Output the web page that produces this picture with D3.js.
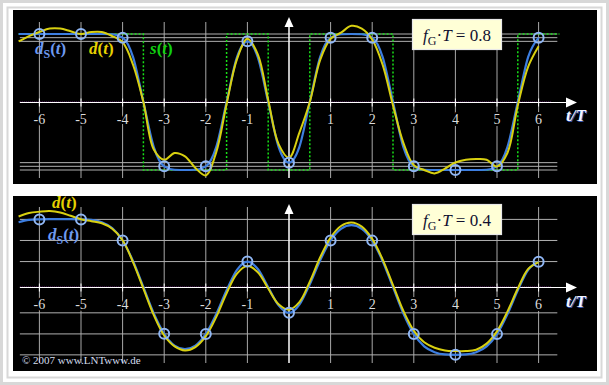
<!DOCTYPE html>
<html><head><meta charset="utf-8">
<script src="https://cdn.jsdelivr.net/npm/d3@7"></script>
<style>body{margin:0;background:#fff}svg{display:block}</style>
</head><body><svg id="c" width="609" height="385"></svg>
<script>
// ---------- data ----------
const tickTimes = [-6,-5,-4,-3,-2,-1,0,1,2,3,4,5,6];
const tickLabels = ["-6","-5","-4","-3","-2","-1","","1","2","3","4","5","6"];
const symbols = [1,1,1,-1,-1,1,-1,1,1,-1,-1,-1,1];
const sampleTimes = [-6.5,-6.25,-6,-5.75,-5.5,-5.25,-5,-4.75,-4.5,-4.25,-4,-3.75,-3.5,-3.25,-3,-2.75,-2.5,-2.25,-2,-1.75,-1.5,-1.25,-1,-0.75,-0.5,-0.25,0,0.25,0.5,0.75,1,1.25,1.5,1.75,2,2.25,2.5,2.75,3,3.25,3.5,3.75,4,4.25,4.5,4.75,5,5.25,5.5,5.75,6];

// top panel: fG*T = 0.8
const topParam = "0.8";
const topDS = [1.0,1.0,1.0,1.0,1.0,1.0,1.0,1.0,1.0,0.996,0.946,0.663,0,-0.663,-0.946,-0.996,-1.0,-0.996,-0.946,-0.663,0,0.659,0.892,0.659,0,-0.659,-0.892,-0.659,0,0.663,0.946,0.996,1.0,0.996,0.946,0.663,0,-0.663,-0.946,-0.996,-1.0,-1.0,-1.0,-1.0,-1.0,-0.996,-0.946,-0.663,0,0.663,0.946];
const topD = [0.89,0.97,1.03,1.08,1.08,1.04,1.0,1.03,1.03,0.97,0.88,0.55,0.0,-0.7,-0.85,-0.75,-0.8,-0.97,-1.08,-0.74,-0.03,0.63,0.93,0.7,0.03,-0.62,-0.82,-0.45,0.0,0.62,0.93,1.02,1.12,1.08,0.92,0.55,-0.05,-0.6,-0.93,-1.0,-1.05,-0.98,-0.89,-0.85,-0.84,-0.85,-0.95,-0.75,-0.05,0.52,0.82];
const topSamples = [1.0,1.0,0.946,-0.946,-0.946,0.892,-0.892,0.946,0.946,-0.946,-1.0,-0.946,0.946];
const topLevels = [1.0,0.946,0.892,-0.892,-0.946,-1.0];

// bottom panel: fG*T = 0.4
const botParam = "0.4";
const botDS = [0.956,0.989,0.997,1.0,1.0,1.0,0.997,0.989,0.956,0.87,0.687,0.386,0,-0.386,-0.685,-0.859,-0.912,-0.859,-0.687,-0.397,-0.044,0.256,0.377,0.267,0,-0.267,-0.377,-0.256,0.044,0.397,0.687,0.859,0.912,0.859,0.685,0.386,0,-0.386,-0.687,-0.87,-0.956,-0.989,-0.995,-0.989,-0.956,-0.87,-0.69,-0.397,-0.044,0.256,0.374];
const botD = [1.04,1.09,1.11,1.12,1.1,1.05,1.0,0.97,0.94,0.86,0.69,0.37,-0.02,-0.41,-0.71,-0.87,-0.93,-0.88,-0.72,-0.44,-0.09,0.2,0.31,0.22,-0.02,-0.25,-0.33,-0.22,0.08,0.44,0.73,0.9,0.95,0.89,0.71,0.41,0.03,-0.35,-0.64,-0.81,-0.89,-0.93,-0.94,-0.94,-0.92,-0.83,-0.65,-0.36,-0.02,0.27,0.37];
const botSamples = [0.997,0.997,0.687,-0.685,-0.687,0.377,-0.377,0.687,0.685,-0.687,-0.995,-0.69,0.374];
const botLevels = [0.997,0.687,0.377,-0.377,-0.687,-0.995];

// ---------- drawing ----------
const svg = d3.select("#c");
const serif = "'Liberation Serif','Times New Roman',serif";
svg.append("rect").attr("x",0).attr("y",0).attr("width",609).attr("height",385).attr("fill","#fff");
svg.append("rect").attr("x",1.5).attr("y",1.5).attr("width",606).attr("height",382)
  .attr("fill","none").attr("stroke","#d8d8d8").attr("stroke-width",3);
svg.append("rect").attr("x",7.5).attr("y",7.5).attr("width",594).attr("height",370)
  .attr("fill","none").attr("stroke","#d8d8d8").attr("stroke-width",2);

const x = d3.scaleLinear().domain([-6,6]).range([39.4,538.6]);
const xStart = -6.47, xEnd = 6.45;

function panel(cfg){
  const g = svg.append("g");
  g.append("rect").attr("x",13).attr("y",cfg.top).attr("width",584).attr("height",cfg.h).attr("fill","#000");
  const y = d3.scaleLinear().domain([-1,1]).range([cfg.zero+68,cfg.zero-68]);

  // vertical grid
  g.selectAll(null).data(tickTimes.filter(t=>t!==0)).join("line")
    .attr("x1",d=>x(d)).attr("x2",d=>x(d))
    .attr("y1",cfg.gridTop).attr("y2",cfg.gridBot)
    .attr("stroke","#a8a8a8").attr("stroke-width",1);
  // horizontal level lines
  g.selectAll(null).data(cfg.levels).join("line")
    .attr("x1",x(xStart)).attr("x2",x(xEnd))
    .attr("y1",d=>y(d)).attr("y2",d=>y(d))
    .attr("stroke","#b0b0b0").attr("stroke-width",1);

  // green s(t)
  if(cfg.showS){
    const pts = [{t:-6.5,v:symbols[0]}].concat(tickTimes.map((t,i)=>({t,v:symbols[i]}))).concat([{t:6.5,v:symbols[symbols.length-1]}]);
    g.append("path").datum(pts)
      .attr("d",d3.line().x(d=>x(d.t)).y(d=>y(d.v)).curve(d3.curveStep))
      .attr("fill","none").attr("stroke","#18e018").attr("stroke-width",1.5)
      .attr("stroke-dasharray","2,2");
  }

  // zero dotted line + x axis
  const y0 = Math.round(y(0)) + 0.5;
  g.append("line").attr("x1",x(xStart)).attr("x2",x(6.3)).attr("y1",y0-1).attr("y2",y0-1)
    .attr("stroke","#3c1444").attr("stroke-width",1).attr("stroke-dasharray","1,1");
  g.append("line").attr("x1",x(xStart)).attr("x2",568).attr("y1",y0).attr("y2",y0)
    .attr("stroke","#fff").attr("stroke-width",1);
  g.append("path").attr("d",`M566,${y0-5}L577,${y0}L566,${y0+5}Z`).attr("fill","#fff");
  // y axis
  g.append("line").attr("x1",x(0)).attr("x2",x(0)).attr("y1",cfg.arrowTip+8).attr("y2",cfg.gridBot)
    .attr("stroke","#fff").attr("stroke-width",1.5);
  g.append("path").attr("d",`M${x(0)-4.5},${cfg.arrowTip+10}L${x(0)},${cfg.arrowTip}L${x(0)+4.5},${cfg.arrowTip+10}Z`).attr("fill","#fff");
  // ticks
  g.selectAll(null).data(tickTimes.filter(t=>t!==0)).join("line")
    .attr("x1",d=>x(d)).attr("x2",d=>x(d)).attr("y1",y0-4).attr("y2",y0+4)
    .attr("stroke","#fff").attr("stroke-width",1);
  g.selectAll(null).data(tickTimes).join("text")
    .attr("x",d=>x(d)).attr("y",y(0)+22).attr("text-anchor","middle")
    .attr("font-family",serif).attr("font-size",14).attr("fill","#dcdcdc")
    .attr("stroke","#000").attr("stroke-width",4).attr("paint-order","stroke")
    .text((d,i)=>tickLabels[i]);
  // t/T label
  const tl = (dx,dy,fill)=>{
    const t = g.append("text").attr("x",566+dx).attr("y",cfg.tLabelY+dy)
      .attr("font-family",serif).attr("font-size",17).attr("font-weight","bold")
      .attr("font-style","italic").attr("fill",fill);
    t.append("tspan").text("t/T");
  };
  tl(1,1,"#2f50b0"); tl(0,0,"#f4f6ff");

  // curves
  const ds = sampleTimes.map((t,i)=>({t,v:cfg.ds[i]}));
  const dd = sampleTimes.map((t,i)=>({t,v:cfg.d[i]}));
  g.append("path").datum(ds)
    .attr("d",d3.line().x(d=>x(d.t)).y(d=>y(d.v)).curve(d3.curveMonotoneX))
    .attr("fill","none").attr("stroke","#3d7ee0").attr("stroke-width",2.2);
  g.append("path").datum(dd)
    .attr("d",d3.line().x(d=>x(d.t)).y(d=>y(d.v)).curve(d3.curveCatmullRom.alpha(0.5)))
    .attr("fill","none").attr("stroke","#d8d010").attr("stroke-width",2);
  // sample circles
  g.selectAll(null).data(tickTimes).join("circle")
    .attr("cx",d=>x(d)).attr("cy",(d,i)=>y(cfg.samples[i])).attr("r",5)
    .attr("fill","none").attr("stroke","#8fb6f4").attr("stroke-width",2);

  // legend box
  const bx = 412.5, bw = 89, by = cfg.boxY, bh = 30;
  g.append("rect").attr("x",bx).attr("y",by).attr("width",bw).attr("height",bh)
    .attr("fill","#ffffd6").attr("stroke","#e8e8e8").attr("stroke-width",1.2);
  const lt = g.append("text").attr("x",bx+bw/2).attr("y",by+21).attr("text-anchor","middle")
    .attr("font-family",serif).attr("font-size",17).attr("fill","#101030");
  lt.append("tspan").attr("font-style","italic").text("f");
  lt.append("tspan").attr("font-size",12).attr("dy",4).text("G");
  lt.append("tspan").attr("dy",-4).text("\u00B7");
  lt.append("tspan").attr("font-style","italic").text("T");
  lt.append("tspan").text(" = " + cfg.param);

  // curve labels
  cfg.labels.forEach(L=>{
    const t = g.append("text").attr("x",L.x).attr("y",L.y)
      .attr("font-family",serif).attr("font-size",17).attr("font-weight","bold")
      .attr("font-style","italic").attr("fill",L.color);
    t.append("tspan").text(L.name);
    if(L.sub){ t.append("tspan").attr("font-size",12).attr("font-style","normal").attr("dy",4).text(L.sub);
               t.append("tspan").attr("dy",-4).attr("font-style","normal").text("("); }
    else t.append("tspan").attr("font-style","normal").text("(");
    t.append("tspan").text("t");
    t.append("tspan").attr("font-style","normal").text(")");
  });
  return g;
}

panel({top:10,h:174,zero:102,gridTop:22,gridBot:178,arrowTip:17,tLabelY:121,boxY:19.5,
  levels:topLevels,ds:topDS,d:topD,samples:topSamples,param:topParam,showS:true,
  labels:[{x:35,y:54,name:"d",sub:"S",color:"#6e9af0"},{x:89,y:54,name:"d",color:"#e6d200"},{x:150,y:54,name:"s",color:"#10d010"}]});

panel({top:196,h:175,zero:287.2,gridTop:207,gridBot:363,arrowTip:204,tLabelY:307,boxY:204.5,
  levels:botLevels,ds:botDS,d:botD,samples:botSamples,param:botParam,showS:false,
  labels:[{x:52,y:208,name:"d",color:"#e6d200"},{x:48,y:240,name:"d",sub:"S",color:"#6e9af0"}]});

svg.append("text").attr("x",22).attr("y",364).attr("font-family",serif).attr("font-size",11)
  .attr("fill","#d4dcec").text("\u00A9 2007 www.LNTwww.de");
</script></body></html>
